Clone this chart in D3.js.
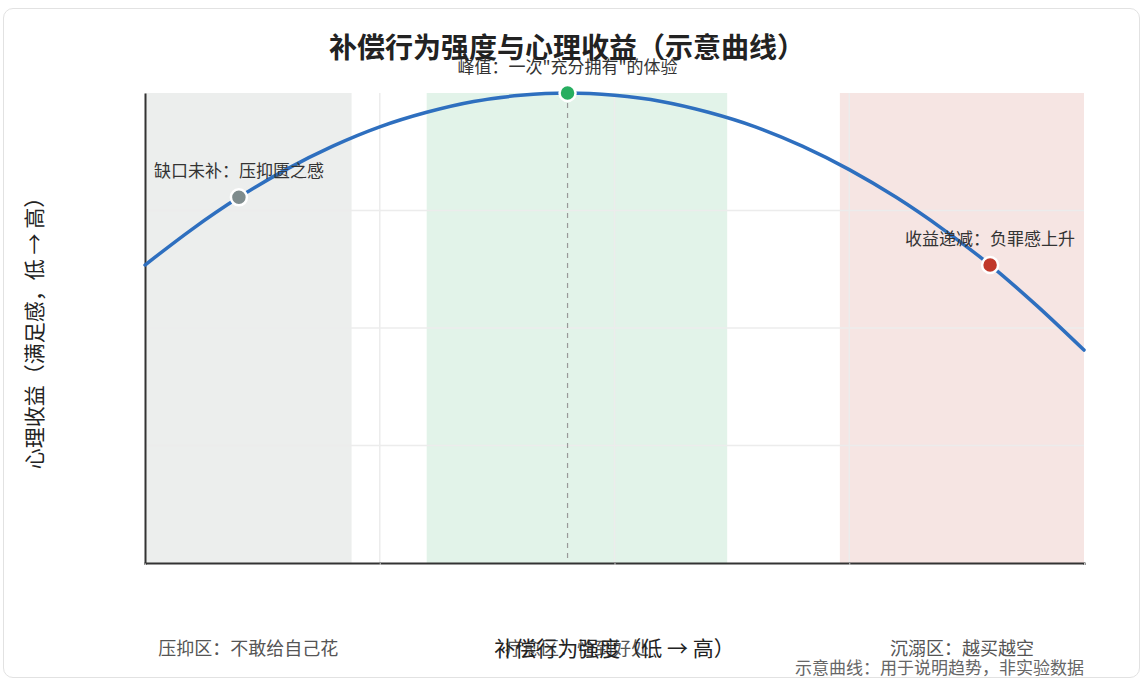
<!DOCTYPE html>
<html>
<head>
<meta charset="utf-8">
<script src="https://cdn.jsdelivr.net/npm/d3@7"></script>
<style>
  body { margin: 0; background: #fff; font-family: "Noto Sans CJK SC", "Noto Sans", sans-serif; }
  .card { position: absolute; left: 3px; top: 8px; width: 1135px; height: 668px;
          border: 1px solid #e2e2e2; border-radius: 10px; background: #fff; }
  svg { position: absolute; left: 0; top: 0; }
</style>
</head>
<body>
<div class="card"></div>
<svg width="1143" height="681"></svg>
<script>
// curve samples (x: intensity 0-10, y: benefit 0-1)
var curveX = [0, 0.5, 1, 1.5, 2, 2.5, 3, 3.5, 4, 4.5, 5, 5.5, 6, 6.5, 7, 7.5, 8, 8.5, 9, 9.5, 10];
var curveY = [0.634, 0.71, 0.778, 0.837, 0.887, 0.928, 0.959, 0.982, 0.995, 1.0, 0.995, 0.982, 0.959, 0.928, 0.887, 0.837, 0.778, 0.71, 0.634, 0.547, 0.453];

// zones
var zoneNames = ['压抑区：不敢给自己花', '疗愈区：恰到好处', '沉溺区：越买越空'];
var zoneStart = [0, 3.0, 7.4];
var zoneEnd = [2.2, 6.2, 10];
var zoneColors = ['#eceeed', '#e2f3e9', '#f6e5e3'];

// annotated points
var pointNames = ['缺口未补：压抑匮之感', '峰值：一次"充分拥有"的体验', '收益递减：负罪感上升'];
var pointX = [1, 4.5, 9];
var pointY = [0.778, 1.0, 0.634];
var pointColors = ['#7f8c8d', '#27ae60', '#c0392b'];

var gridX = [0, 2.5, 5, 7.5, 10];
var gridY = [0, 0.25, 0.5, 0.75, 1];

var svg = d3.select('svg');
var padding = { t: 93, r: 59, b: 118, l: 145 };
var chartWidth = 1143 - padding.l - padding.r;
var chartHeight = 681 - padding.t - padding.b;

var xScale = d3.scaleLinear().domain([0, 10]).range([0, chartWidth]);
var yScale = d3.scaleLinear().domain([0, 1]).range([chartHeight, 0]);

var chartG = svg.append('g')
    .attr('transform', 'translate(' + [padding.l, padding.t] + ')');

// zone backgrounds
chartG.selectAll('.zone')
    .data(zoneNames)
    .enter()
    .append('rect')
    .attr('class', 'zone')
    .attr('x', (d, i) => xScale(zoneStart[i]))
    .attr('y', 0)
    .attr('width', (d, i) => xScale(zoneEnd[i]) - xScale(zoneStart[i]))
    .attr('height', chartHeight)
    .attr('fill', (d, i) => zoneColors[i]);

// grid
chartG.selectAll('.gx')
    .data(gridX.slice(1, -1))
    .enter()
    .append('line')
    .attr('x1', d => xScale(d)).attr('x2', d => xScale(d))
    .attr('y1', 0).attr('y2', chartHeight)
    .attr('stroke', '#ececec').attr('stroke-width', 1.5);
chartG.selectAll('.gy')
    .data(gridY.slice(1, -1))
    .enter()
    .append('line')
    .attr('y1', d => yScale(d)).attr('y2', d => yScale(d))
    .attr('x1', 0).attr('x2', chartWidth)
    .attr('stroke', '#ececec').attr('stroke-width', 1.5);

// axes
chartG.append('g')
    .attr('transform', 'translate(0,' + chartHeight + ')')
    .call(d3.axisBottom(xScale).tickValues(gridX).tickSize(2).tickFormat(''))
    .call(g => g.select('.domain').attr('stroke', '#333').attr('stroke-width', 2))
    .call(g => g.selectAll('.tick line').attr('stroke', '#ccc'));
chartG.append('g')
    .call(d3.axisLeft(yScale).tickValues(gridY).tickSize(0).tickFormat(''))
    .call(g => g.select('.domain').attr('stroke', '#333').attr('stroke-width', 2));

// peak dashed line
chartG.append('line')
    .attr('x1', xScale(pointX[1])).attr('x2', xScale(pointX[1]))
    .attr('y1', yScale(pointY[1])).attr('y2', chartHeight)
    .attr('stroke', '#999').attr('stroke-width', 1.2)
    .attr('stroke-dasharray', '5,5');

// curve
var line = d3.line()
    .x((d, i) => xScale(curveX[i]))
    .y(d => yScale(d))
    .curve(d3.curveMonotoneX);
chartG.append('path')
    .datum(curveY)
    .attr('d', line)
    .attr('fill', 'none')
    .attr('stroke', '#2e6fbf')
    .attr('stroke-width', 3.5)
    .attr('stroke-linecap', 'round');

// points
chartG.selectAll('.pt')
    .data(pointNames)
    .enter()
    .append('circle')
    .attr('cx', (d, i) => xScale(pointX[i]))
    .attr('cy', (d, i) => yScale(pointY[i]))
    .attr('r', 8)
    .attr('fill', (d, i) => pointColors[i])
    .attr('stroke', '#fff')
    .attr('stroke-width', 2.5);

chartG.selectAll('.ptlabel')
    .data(pointNames)
    .enter()
    .append('text')
    .attr('x', (d, i) => xScale(pointX[i]))
    .attr('y', (d, i) => yScale(pointY[i]) - 20)
    .attr('text-anchor', 'middle')
    .style('font-size', '17px')
    .style('fill', '#333')
    .text(d => d);

// zone labels
chartG.selectAll('.zlabel')
    .data(zoneNames)
    .enter()
    .append('text')
    .attr('x', (d, i) => xScale((zoneStart[i] + zoneEnd[i]) / 2))
    .attr('y', chartHeight + 92)
    .attr('text-anchor', 'middle')
    .style('font-size', '18px')
    .style('fill', '#555')
    .text(d => d);

// titles
svg.append('text')
    .attr('x', 567).attr('y', 58)
    .attr('text-anchor', 'middle')
    .style('font-size', '28px')
    .style('font-weight', 'bold')
    .style('fill', '#222')
    .text('补偿行为强度与心理收益（示意曲线）');

svg.append('text')
    .attr('x', padding.l + chartWidth / 2).attr('y', chartHeight + padding.t + 93)
    .attr('text-anchor', 'middle')
    .style('font-size', '21px')
    .style('fill', '#222')
    .text('补偿行为强度（低 → 高）');

svg.append('text')
    .attr('transform', 'translate(42,' + (padding.t + chartHeight / 2) + ')rotate(-90)')
    .attr('text-anchor', 'middle')
    .style('font-size', '21px')
    .style('fill', '#222')
    .text('心理收益（满足感，低 → 高）');

svg.append('text')
    .attr('x', padding.l + chartWidth).attr('y', 674)
    .attr('text-anchor', 'end')
    .style('font-size', '17px')
    .style('fill', '#666')
    .text('示意曲线：用于说明趋势，非实验数据');
</script>
</body>
</html>
